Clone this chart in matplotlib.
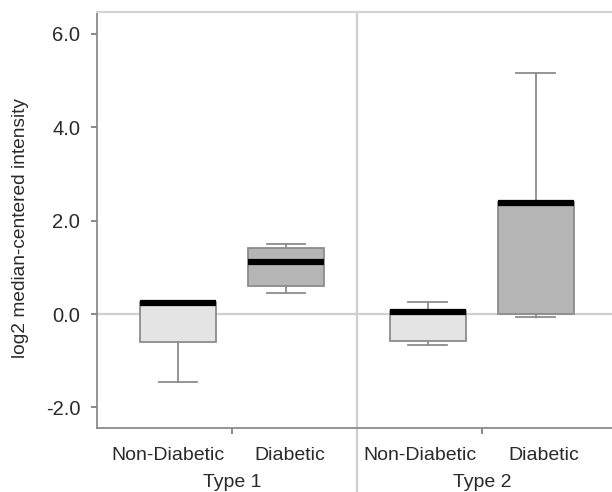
import matplotlib
matplotlib.use("Agg")
import matplotlib.pyplot as plt
import matplotlib.transforms as mtransforms

plt.rcParams["font.family"] = ["Liberation Sans", "DejaVu Sans"]

# --- data ---
groups = ["Type 1", "Type 2"]
categories = ["Non-Diabetic", "Diabetic", "Non-Diabetic", "Diabetic"]
positions = [0.0, 1.0, 2.315, 3.315]
whisker_lo = [-1.45, 0.46, -0.67, -0.07]
q1 = [-0.59, 0.60, -0.57, 0.01]
median = [0.24, 1.12, 0.05, 2.38]
q3 = [0.25, 1.41, 0.06, 2.39]
whisker_hi = [0.25, 1.51, 0.26, 5.16]
fills = ["#e4e4e4", "#b5b5b5", "#e4e4e4", "#b5b5b5"]
yticks = [-2.0, 0.0, 2.0, 4.0, 6.0]

fig = plt.figure(figsize=(6.12, 4.92), dpi=100)
ax = fig.add_axes([97 / 612, 64 / 492, 515 / 612, 416 / 492])

stats = []
for i in range(len(categories)):
    stats.append({
        "whislo": whisker_lo[i], "q1": q1[i], "med": median[i],
        "q3": q3[i], "whishi": whisker_hi[i], "fliers": [],
    })

edge = "#8c8c8c"
txt = "#2a2a2a"
ax.axhline(0, color="#cfcfcf", lw=1.6, zorder=0)

bp = ax.bxp(
    stats, positions=positions, widths=0.70, patch_artist=True,
    showfliers=False,
    boxprops=dict(edgecolor=edge, linewidth=1.3),
    whiskerprops=dict(color=edge, linewidth=1.3),
    capprops=dict(color=edge, linewidth=1.3),
    medianprops=dict(color="black", linewidth=4.5, solid_capstyle="butt"),
    capwidths=0.36,
)
for patch, c in zip(bp["boxes"], fills):
    patch.set_facecolor(c)

# separator between the two panels, running down through the labels
sep = (positions[1] + positions[2]) / 2
trans = mtransforms.blended_transform_factory(ax.transData, ax.transAxes)
ax.plot([sep, sep], [-0.16, 1.0], transform=trans, color="#cfcfcf",
        lw=1.6, clip_on=False, zorder=0)

ax.set_xlim(-0.75, 4.02)
ax.set_ylim(-2.44, 6.47)

ax.set_yticks(yticks)
ax.set_yticklabels([f"{v:.1f}" for v in yticks], fontsize=14.5, color=txt)
group_centers = [(positions[0] + positions[1]) / 2, (positions[2] + positions[3]) / 2]
ax.set_xticks(group_centers)
ax.set_xticklabels(["", ""])
ax.tick_params(axis="both", length=4, width=1.2, color="#777777")
ax.tick_params(axis="y", pad=8)

# category labels sit a little apart from the group tick
shifts = [-10, 4, -8, 8]
for x, lab, dx in zip(positions, categories, shifts):
    off = mtransforms.ScaledTranslation(dx / 100, 0, fig.dpi_scale_trans)
    ax.text(x, -0.066, lab, transform=trans + off, ha="center", va="center",
            fontsize=14, color=txt)
for x, lab in zip(group_centers, groups):
    ax.text(x, -0.132, lab, transform=trans, ha="center", va="center",
            fontsize=14, color=txt)

ax.set_ylabel("log2 median-centered intensity", fontsize=13.8, color=txt)
ax.yaxis.set_label_coords(-0.132, 0.48)

ax.spines["right"].set_visible(False)
ax.spines["top"].set_color("#d4d4d4")
ax.spines["top"].set_linewidth(1.6)
for s in ["left", "bottom"]:
    ax.spines[s].set_color("#8a8a8a")
    ax.spines[s].set_linewidth(1.3)

fig.savefig("out.png", dpi=100)
